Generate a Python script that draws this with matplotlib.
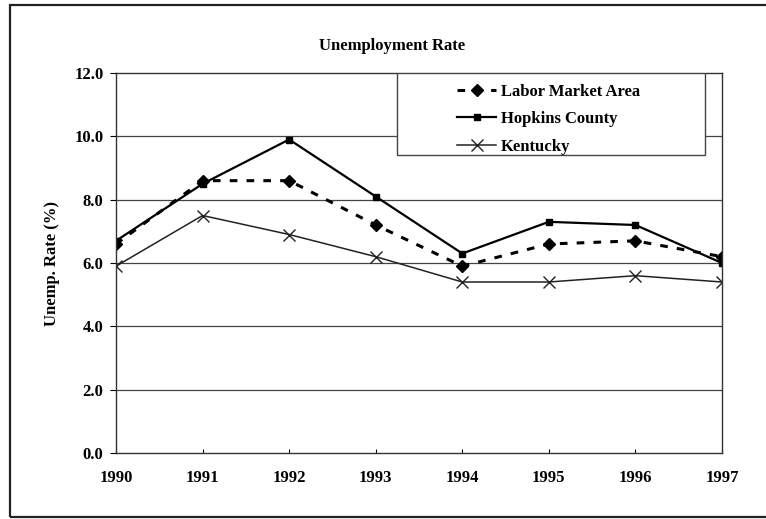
import matplotlib
matplotlib.use("Agg")
import matplotlib.pyplot as plt
from matplotlib.patches import Rectangle

years = [1990, 1991, 1992, 1993, 1994, 1995, 1996, 1997]
labor_market = [6.6, 8.6, 8.6, 7.2, 5.9, 6.6, 6.7, 6.2]
hopkins = [6.7, 8.5, 9.9, 8.1, 6.3, 7.3, 7.2, 6.0]
kentucky = [5.9, 7.5, 6.9, 6.2, 5.4, 5.4, 5.6, 5.4]
y_ticks = [0.0, 2.0, 4.0, 6.0, 8.0, 10.0, 12.0]

plt.rcParams['font.family'] = ['Liberation Serif', 'DejaVu Serif']
plt.rcParams['font.weight'] = 'bold'

fig = plt.figure(figsize=(7.66, 5.19), dpi=100)
ax = fig.add_axes([116 / 766, 66 / 519, 606 / 766, 380 / 519])

# рамка вокруг всего рисунка
fig.patches.append(Rectangle((10 / 766, 2 / 519), 1.0, 512 / 519, transform=fig.transFigure,
                             fill=False, edgecolor='#222222', linewidth=1.6))

ax.plot(years, labor_market, color='black', linestyle=(0, (2.5, 3)), linewidth=2.2,
        marker='D', markersize=6, label='Labor Market Area')
ax.plot(years, hopkins, color='black', linestyle='-', linewidth=1.6,
        marker='s', markersize=5, label='Hopkins County')
ax.plot(years, kentucky, color='#222222', linestyle='-', linewidth=1.1,
        marker='x', markersize=8, markeredgewidth=1.0, label='Kentucky')

ax.set_xlim(1990, 1997)
ax.set_ylim(0, 12)
ax.set_xticks(years)
ax.set_yticks(y_ticks)
ax.set_yticklabels([f"{v:.1f}" for v in y_ticks])
for v in y_ticks[1:-1]:
    ax.axhline(v, color='#444444', linewidth=0.9, zorder=0)

ax.tick_params(axis='y', direction='out', length=4, labelsize=12, pad=5)
ax.tick_params(axis='x', direction='in', length=3, labelsize=12, pad=12)
for lbl in ax.get_xticklabels() + ax.get_yticklabels():
    lbl.set_fontweight('bold')
for s in ax.spines.values():
    s.set_linewidth(1.0)
    s.set_color('#333333')

ax.set_ylabel("Unemp. Rate (%)", fontsize=12, fontweight='bold')
ax.yaxis.set_label_coords((60 - 116) / 606, 0.5)
fig.text(392 / 766, 1 - 46 / 519, "Unemployment Rate", ha='center', va='center',
         fontsize=12, fontweight='bold')

# рамка легенды шире самой легенды, как в оригинале
ax.add_patch(Rectangle(((397 - 116) / 606, (453 - 155) / 380), (705 - 397) / 606, 82 / 380,
                       transform=ax.transAxes, fill=True, facecolor='white',
                       edgecolor='#444444', linewidth=1.0, zorder=4))
leg = ax.legend(loc='upper left', bbox_to_anchor=((454 - 116) / 606, 0.98), frameon=False,
                handlelength=2.3, borderpad=0.2, labelspacing=0.68, handletextpad=0.3,
                borderaxespad=0.0, prop={'weight': 'bold', 'size': 12})
leg.set_zorder(5)

fig.savefig("out.png", dpi=100)
